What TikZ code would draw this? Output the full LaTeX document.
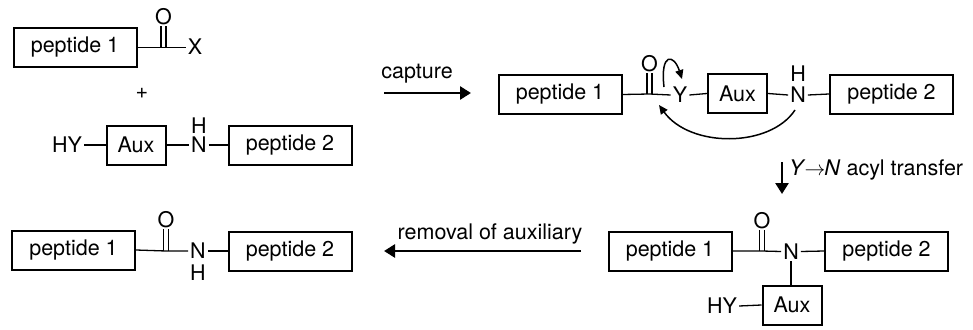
\documentclass[tikz,border=0pt]{standalone}
\usepackage{fontspec}
\setmainfont{TeX Gyre Heros}
\usetikzlibrary{arrows.meta}
\tikzset{
  pbox/.style={draw, line width=2pt, minimum width=123pt, minimum height=39pt, inner sep=0pt},
  abox/.style={draw, line width=2pt, minimum width=59pt, minimum height=39pt, inner sep=0pt},
  atom/.style={inner sep=1pt, text height=15pt, text depth=0pt},
  bond/.style={line width=1.3pt},
  rxn/.style={line width=2.6pt, -{Triangle[length=11pt,width=13pt]}},
  curly/.style={line width=1.5pt, -{Triangle[length=9pt,width=8pt]}},
  lbl/.style={inner sep=0pt},
  every node/.style={font=\fontsize{21.5}{25}\selectfont}
}
\begin{document}
\begin{tikzpicture}[x=1pt,y=-1pt]
\useasboundingbox (0,0) rectangle (973,329);
% ---------- top left: reactants
\node[pbox] (p1a) at (75,47.5) {peptide 1};
\coordinate (Ca) at (163.5,47.5);
\node[atom] (Oa) at (163.5,17) {O};
\node[atom] (Xa) at (195,47.5) {X};
\draw[bond] (p1a.east) -- (Ca) -- ([xshift=-1pt]Xa.west);
\draw[bond] ([xshift=-2.5pt]Ca) -- ([xshift=-2.5pt]Ca |- Oa.south);
\draw[bond] ([xshift=2.5pt]Ca) -- ([xshift=2.5pt]Ca |- Oa.south);
\node[lbl] (plus) at (142,93) {+};
\node[atom] (HYa) at (67,145) {HY};
\node[abox] (auxa) at (136,145) {Aux};
\node[atom] (Na) at (199,145) {N};
\node[atom] (Ha) at (199,125.5) {H};
\node[pbox] (p2a) at (290,145) {peptide 2};
\draw[bond] ([xshift=1pt]HYa.east) -- (auxa.west);
\draw[bond] (auxa.east) -- ([xshift=-1pt]Na.west);
\draw[bond] ([xshift=1pt]Na.east) -- (p2a.west);
% ---------- capture arrow
\coordinate (capS) at (384,93);
\coordinate (capE) at (471,93);
\draw[rxn] (capS) -- (capE);
\node[lbl] (capL) at (417,74) {capture};
% ---------- top right: thioester intermediate
\node[pbox] (p1b) at (560,94.5) {peptide 1};
\coordinate (Cb) at (649.5,94);
\node[atom] (Ob) at (649.5,64) {O};
\node[atom] (Yb) at (680,95) {Y};
\node[abox] (auxb) at (737.5,93.5) {Aux};
\node[atom] (Nb) at (798,95) {N};
\node[atom] (Hb) at (798,74) {H};
\node[pbox] (p2b) at (891.5,94) {peptide 2};
\draw[bond] (p1b.east) -- (Cb) -- ([xshift=-1pt]Yb.west);
\draw[bond] ([xshift=-2.5pt]Cb) -- ([xshift=-2.5pt]Cb |- Ob.south);
\draw[bond] ([xshift=2.5pt]Cb) -- ([xshift=2.5pt]Cb |- Ob.south);
\draw[bond] ([xshift=1pt]Yb.east) -- (auxb.west);
\draw[bond] (auxb.east) -- ([xshift=-1pt]Nb.west);
\draw[bond] ([xshift=1pt]Nb.east) -- (p2b.west);
\coordinate (s1) at (664,87);
\coordinate (e1) at (682,79);
\draw[curly] (s1) .. controls (660,52) and (674,54) .. (e1);
\coordinate (s2) at (795,110);
\coordinate (e2) at (659,105);
\draw[curly] (s2) .. controls (770,148) and (690,148) .. (e2);
% ---------- acyl transfer arrow
\coordinate (acS) at (782,162);
\coordinate (acE) at (782,194);
\draw[rxn] (acS) -- (acE);
\node[lbl, anchor=west] (acL) at (789,170) {\textit{Y}\kern-1pt$\rightarrow$\kern-1pt\textit{N} acyl transfer};
% ---------- bottom right: amide with auxiliary
\node[pbox] (p1c) at (670,251) {peptide 1};
\coordinate (Cc) at (762,251);
\node[atom] (Oc) at (762,221) {O};
\node[atom] (Nc) at (791,251.5) {N};
\node[pbox] (p2c) at (886.5,251) {peptide 2};
\node[abox] (auxc) at (792,305) {Aux};
\node[atom] (HYc) at (722,306) {HY};
\draw[bond] (p1c.east) -- (Cc) -- ([xshift=-1pt]Nc.west);
\draw[bond] ([xshift=-2.5pt]Cc) -- ([xshift=-2.5pt]Cc |- Oc.south);
\draw[bond] ([xshift=2.5pt]Cc) -- ([xshift=2.5pt]Cc |- Oc.south);
\draw[bond] ([xshift=1pt]Nc.east) -- (p2c.west);
\draw[bond] ([yshift=-1pt]Nc.south) -- (Nc.south |- auxc.north);
\draw[bond] ([xshift=1pt]HYc.east) -- (auxc.west);
% ---------- removal arrow
\coordinate (rmS) at (581,251);
\coordinate (rmE) at (384,251);
\draw[rxn] (rmS) -- (rmE);
\node[lbl] (rmL) at (490,234) {removal of auxiliary};
% ---------- bottom left: product
\node[pbox] (p1d) at (73.5,250) {peptide 1};
\coordinate (Cd) at (166,251);
\node[atom] (Od) at (166,220) {O};
\node[atom] (Nd) at (198,251) {N};
\node[atom] (Hd) at (198,273) {H};
\node[pbox] (p2d) at (290,251) {peptide 2};
\draw[bond] (p1d.east) -- (Cd) -- ([xshift=-1pt]Nd.west);
\draw[bond] ([xshift=-2.5pt]Cd) -- ([xshift=-2.5pt]Cd |- Od.south);
\draw[bond] ([xshift=2.5pt]Cd) -- ([xshift=2.5pt]Cd |- Od.south);
\draw[bond] ([xshift=1pt]Nd.east) -- (p2d.west);
\end{tikzpicture}
\end{document}
